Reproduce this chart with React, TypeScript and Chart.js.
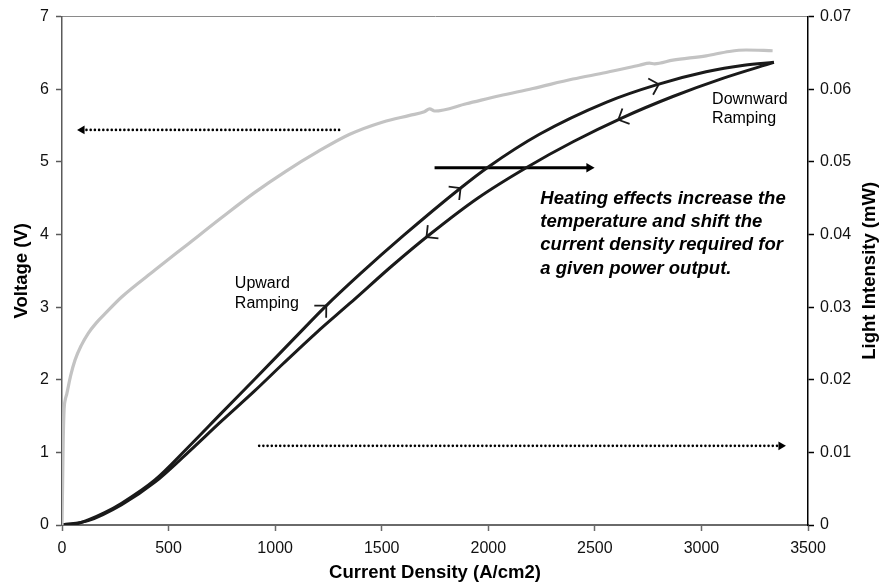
import React, { useEffect, useRef } from 'react';
import { Chart, registerables } from 'chart.js';

Chart.register(...registerables);

const FONT = '"Liberation Sans", Arial, Helvetica, sans-serif';

// X axis (current density, A/cm2)
const xTicksMin = 0;
const xTicksMax = 3500;
const xStep = 500;
// Left axis (voltage)
const vMin = 0;
const vMax = 7;
// Right axis (light intensity, mW)
const lMin = 0;
const lMax = 0.07;

// Voltage curve (grey)
const voltageJ = [0, 3, 6, 10, 15, 22, 40, 61, 90, 123, 160, 202, 280, 436, 592, 748, 900, 1050, 1200, 1350, 1506, 1631, 1700, 1725, 1748, 1897, 2053, 2209, 2397, 2553, 2709, 2756, 2780, 2866, 3022, 3131, 3209, 3334];
const voltageV = [0, 0.6, 1.2, 1.6, 1.72, 1.8, 2.05, 2.27, 2.47, 2.64, 2.78, 2.91, 3.14, 3.51, 3.87, 4.23, 4.57, 4.87, 5.14, 5.38, 5.55, 5.64, 5.69, 5.73, 5.7, 5.8, 5.91, 6.01, 6.14, 6.23, 6.33, 6.36, 6.35, 6.4, 6.46, 6.52, 6.54, 6.53];

// Light intensity, upward ramping
const upJ = [0, 60, 123, 200, 280, 436, 592, 748, 905, 1100, 1233, 1400, 1600, 1866, 2000, 2240, 2553, 2788, 3022, 3200, 3340];
const upL = [0, 0.0001, 0.0007, 0.0017, 0.003, 0.0062, 0.0107, 0.0154, 0.0201, 0.026, 0.03, 0.0346, 0.0398, 0.0463, 0.0493, 0.0538, 0.0582, 0.0606, 0.0624, 0.0633, 0.0637];

// Light intensity, downward ramping
const downJ = [0, 123, 280, 436, 592, 748, 905, 1037, 1194, 1350, 1553, 1725, 1950, 2178, 2400, 2631, 2866, 3100, 3340];
const downL = [0, 0.0006, 0.0028, 0.0059, 0.01, 0.0143, 0.0185, 0.0222, 0.0265, 0.0305, 0.0358, 0.04, 0.045, 0.0492, 0.0528, 0.0561, 0.059, 0.0615, 0.0637];

// Annotation arrows
const leftArrowJ = [1300, 94];
const leftArrowV = [5.44, 5.44];
const rightArrowJ = [925, 3373];
const rightArrowL = [0.0109, 0.0109];
const heatArrowJ = [1748, 2473];
const heatArrowL = [0.0492, 0.0492];

// Direction chevrons on the curves (current density positions)
const upChevronJ = [1240, 1870, 2800];
const downChevronJ = [1710, 2610];

// Texts
const upwardLabel = ['Upward', 'Ramping'];
const upwardLabelJ = 811;
const upwardLabelV = [3.26, 2.99];
const downwardLabel = ['Downward', 'Ramping'];
const downwardLabelJ = 3050;
const downwardLabelV = [5.8, 5.53];
const heatingText = [
  'Heating effects increase the',
  'temperature and shift the',
  'current density required for',
  'a given power output.',
];
const heatingTextJ = 2244;
const heatingTextV = [4.42, 4.1, 3.78, 3.45];

const pts = (xs: number[], ys: number[]) => xs.map((x, i) => ({ x, y: ys[i] }));

function interp(xs: number[], ys: number[], x: number) {
  for (let i = 0; i < xs.length - 1; i++) {
    if (x >= xs[i] && x <= xs[i + 1]) {
      const t = (x - xs[i]) / (xs[i + 1] - xs[i]);
      return ys[i] + t * (ys[i + 1] - ys[i]);
    }
  }
  return ys[ys.length - 1];
}

export default function App() {
  const ref = useRef<HTMLCanvasElement>(null);

  useEffect(() => {
    const canvas = ref.current!;
    Chart.defaults.font.family = FONT;

    const annotPlugin = {
      id: 'annot',
      afterDatasetsDraw(chart: any) {
        const ctx = chart.ctx as CanvasRenderingContext2D;
        const xs = chart.scales.x;
        const ys = chart.scales.y;
        const y2 = chart.scales.y2;
        ctx.save();
        // chevrons
        const drawChev = (J: number, xsArr: number[], lsArr: number[], dir: number) => {
          const L = interp(xsArr, lsArr, J);
          const px = xs.getPixelForValue(J);
          const py = y2.getPixelForValue(L);
          const ax = xs.getPixelForValue(J - 60);
          const ay = y2.getPixelForValue(interp(xsArr, lsArr, J - 60));
          const bx = xs.getPixelForValue(J + 60);
          const by = y2.getPixelForValue(interp(xsArr, lsArr, J + 60));
          let dx = (bx - ax) * dir;
          let dy = (by - ay) * dir;
          const len = Math.hypot(dx, dy);
          dx /= len;
          dy /= len;
          const back = Math.atan2(-dy, -dx);
          const arm = 12;
          ctx.beginPath();
          for (const s of [-1, 1]) {
            const a = back + (s * Math.PI) / 4;
            ctx.moveTo(px, py);
            ctx.lineTo(px + Math.cos(a) * arm, py + Math.sin(a) * arm);
          }
          ctx.strokeStyle = '#1a1a1a';
          ctx.lineWidth = 1.8;
          ctx.stroke();
        };
        upChevronJ.forEach((J) => drawChev(J, upJ, upL, 1));
        downChevronJ.forEach((J) => drawChev(J, downJ, downL, -1));

        ctx.fillStyle = '#000';
        ctx.textAlign = 'left';
        ctx.textBaseline = 'alphabetic';
        ctx.font = `16px ${FONT}`;
        upwardLabel.forEach((t, i) => {
          ctx.fillText(t, xs.getPixelForValue(upwardLabelJ), ys.getPixelForValue(upwardLabelV[i]));
        });
        downwardLabel.forEach((t, i) => {
          ctx.fillText(t, xs.getPixelForValue(downwardLabelJ), ys.getPixelForValue(downwardLabelV[i]));
        });
        ctx.font = `italic bold 18.5px ${FONT}`;
        heatingText.forEach((t, i) => {
          ctx.fillText(t, xs.getPixelForValue(heatingTextJ), ys.getPixelForValue(heatingTextV[i]));
        });

        // right axis title (reads bottom to top)
        const ca = chart.chartArea;
        ctx.translate(870, (ca.top + ca.bottom) / 2);
        ctx.rotate(-Math.PI / 2);
        ctx.textAlign = 'center';
        ctx.textBaseline = 'middle';
        ctx.font = `bold 18.5px ${FONT}`;
        ctx.fillText('Light Intensity (mW)', 0, 0);
        ctx.restore();
      },
    };

    const dotted = {
      borderColor: '#000',
      borderWidth: 2.6,
      borderDash: [0.01, 4.2],
      borderCapStyle: 'round' as const,
      pointStyle: 'triangle' as const,
      pointRadius: [0, 5],
      pointBackgroundColor: '#000',
      pointBorderColor: '#000',
      pointBorderWidth: 0,
      fill: false,
    };

    const chart = new Chart(canvas, {
      type: 'line',
      data: {
        datasets: [
          {
            data: pts(voltageJ, voltageV),
            yAxisID: 'y',
            borderColor: '#c3c3c3',
            borderWidth: 3.2,
            pointRadius: 0,
            cubicInterpolationMode: 'monotone',
            fill: false,
          },
          {
            data: pts(upJ, upL),
            yAxisID: 'y2',
            borderColor: '#1a1a1a',
            borderWidth: 3,
            pointRadius: 0,
            cubicInterpolationMode: 'monotone',
            fill: false,
          },
          {
            data: pts(downJ, downL),
            yAxisID: 'y2',
            borderColor: '#1a1a1a',
            borderWidth: 3,
            pointRadius: 0,
            cubicInterpolationMode: 'monotone',
            fill: false,
          },
          {
            ...dotted,
            data: pts(leftArrowJ, leftArrowV),
            yAxisID: 'y',
            pointRotation: -90,
          },
          {
            ...dotted,
            data: pts(rightArrowJ, rightArrowL),
            yAxisID: 'y2',
            pointRotation: 90,
          },
          {
            data: pts(heatArrowJ, heatArrowL),
            yAxisID: 'y2',
            borderColor: '#000',
            borderWidth: 3,
            pointStyle: 'triangle',
            pointRadius: [0, 5.5],
            pointRotation: 90,
            pointBackgroundColor: '#000',
            pointBorderColor: '#000',
            pointBorderWidth: 0,
            fill: false,
          },
        ] as any,
      },
      options: {
        responsive: false,
        animation: false,
        events: [],
        layout: { padding: 0 },
        plugins: {
          legend: { display: false },
          tooltip: { enabled: false },
        },
        scales: {
          x: {
            type: 'linear',
            position: 'bottom',
            min: xTicksMin,
            max: xTicksMax,
            ticks: {
              stepSize: xStep,
              color: '#111',
              font: { size: 16 },
              padding: 8,
              maxRotation: 0,
              callback: (v: any) => String(Math.round(Number(v))),
            },
            grid: { drawOnChartArea: false, tickLength: 6, tickColor: '#6a6a6a', tickWidth: 1.5 },
            border: { color: '#6a6a6a', width: 2 },
            title: {
              display: true,
              text: 'Current Density (A/cm2)',
              color: '#000',
              font: { size: 18.5, weight: 'bold' },
              padding: { top: 0, bottom: 4 },
            },
            afterFit: (s: any) => {
              s.height = 63;
            },
          },
          x2: {
            type: 'linear',
            position: 'top',
            min: xTicksMin,
            max: xTicksMax,
            ticks: { display: false },
            grid: { drawOnChartArea: false, drawTicks: false },
            border: { color: '#8a8a8a', width: 1 },
            afterFit: (s: any) => {
              s.height = 16;
            },
          },
          y: {
            type: 'linear',
            position: 'left',
            min: vMin,
            max: vMax,
            ticks: { stepSize: 1, color: '#111', font: { size: 16 }, padding: 7 },
            grid: { drawOnChartArea: false, tickLength: 6, tickColor: '#5a5a5a', tickWidth: 1.5 },
            border: { color: '#5a5a5a', width: 1.5 },
            title: {
              display: true,
              text: 'Voltage (V)',
              color: '#000',
              font: { size: 18.5, weight: 'bold' },
              padding: { top: 11, bottom: 0 },
            },
            afterFit: (s: any) => {
              s.width = 62;
            },
          },
          y2: {
            type: 'linear',
            position: 'right',
            min: lMin,
            max: lMax,
            ticks: {
              stepSize: 0.01,
              color: '#111',
              font: { size: 16 },
              padding: 6,
              callback: (v: any) => (Math.abs(v) < 1e-9 ? '0' : Number(v).toFixed(2)),
            },
            grid: { drawOnChartArea: false, tickLength: 6, tickColor: '#000', tickWidth: 1.5 },
            border: { color: '#000', width: 1.5 },
            afterFit: (s: any) => {
              s.width = 73;
            },
          },
        },
      } as any,
      plugins: [annotPlugin],
    });
    return () => chart.destroy();
  }, []);

  return (
    <div style={{ position: 'absolute', left: 0, top: 0, width: 881, height: 588, background: '#fff' }}>
      <canvas ref={ref} width={881} height={588} style={{ display: 'block' }} />
    </div>
  );
}
